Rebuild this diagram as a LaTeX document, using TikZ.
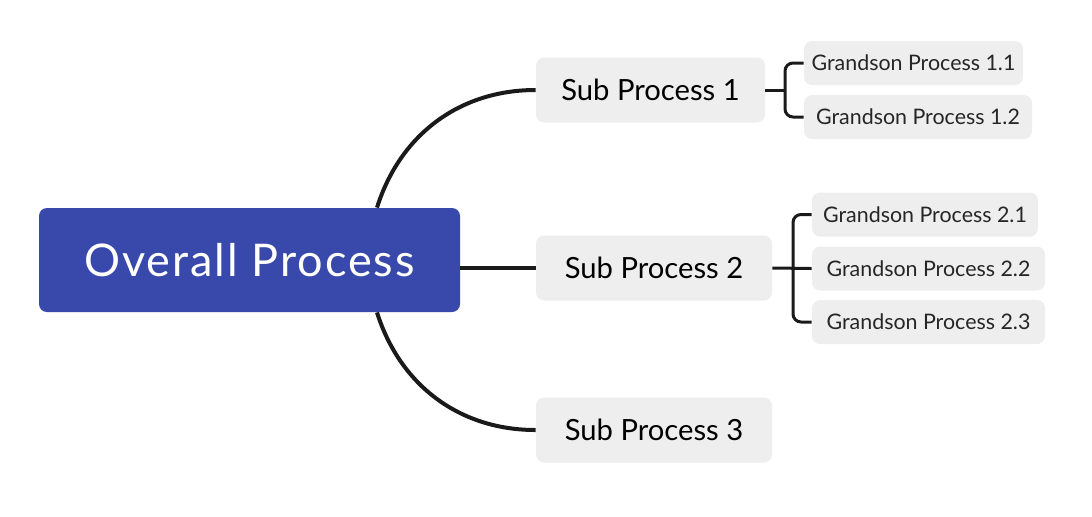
\documentclass[tikz,border=0pt]{standalone}
\usepackage{fontspec}
\setmainfont{Lato}
\newfontfamily\rootfont[LetterSpace=4.4]{Lato}
\usepackage{tikz}
\usetikzlibrary{positioning}
\definecolor{rootblue}{HTML}{3949AB}
\definecolor{boxgray}{HTML}{EEEEEE}
\definecolor{linkblack}{HTML}{1A1A1A}

\begin{document}
\begin{tikzpicture}[x=0.5pt,y=-0.5pt,
  root/.style={fill=rootblue,rounded corners=4pt,inner sep=0pt,text=white,font=\rootfont\fontsize{22.5}{26}\selectfont},
  sub/.style={fill=boxgray,rounded corners=4pt,inner sep=0pt,text=black,minimum height=32.5pt,font=\fontsize{14.6}{17}\selectfont},
  leaf/.style={fill=boxgray,rounded corners=4pt,inner sep=0pt,text=black!85,minimum height=22pt,font=\fontsize{10.7}{12}\selectfont},
  link/.style={draw=linkblack,line width=2pt},
  brace/.style={draw=linkblack,line width=1.5pt,rounded corners=4pt}]
  \useasboundingbox (0,0) rectangle (1092,516);

  \node[root,minimum width=210.5pt,minimum height=52pt] (ovr) at (249.5,260) {Overall Process};

  \node[sub,minimum width=114.5pt] (s1) at (650.5,90) {Sub Process 1};
  \node[sub,minimum width=118pt] (s2) at (654,268) {Sub Process 2};
  \node[sub,minimum width=118pt] (s3) at (654,430) {Sub Process 3};

  \node[leaf,minimum width=109.5pt] (g11) at (913.5,63) {Grandson Process 1.1};
  \node[leaf,minimum width=114pt] (g12) at (918,117) {Grandson Process 1.2};
  \node[leaf,minimum width=113pt] (g21) at (925,214.5) {Grandson Process 2.1};
  \node[leaf,minimum width=116.5pt] (g22) at (928.5,268.5) {Grandson Process 2.2};
  \node[leaf,minimum width=116.5pt] (g23) at (928.5,322) {Grandson Process 2.3};

  \coordinate (top) at ([xshift=63.75pt]ovr.north);
  \coordinate (bot) at ([xshift=63.75pt]ovr.south);
  \coordinate (b1) at (785,90);
  \coordinate (b2) at (793,268);

  \draw[link] (top) .. controls +(23,-73) and +(-76,0) .. (s1.west);
  \draw[link] (s2.west -| ovr.east) -- (s2.west);
  \draw[link] (bot) .. controls +(23,73) and +(-76,0) .. (s3.west);

  \draw[brace] (s1.east) -- (b1);
  \draw[brace] (g11.west) -| (b1) |- (g12.west);
  \draw[brace] (s2.east) -- (g22.west);
  \draw[brace] (g21.west) -| (b2) |- (g23.west);
\end{tikzpicture}
\end{document}
